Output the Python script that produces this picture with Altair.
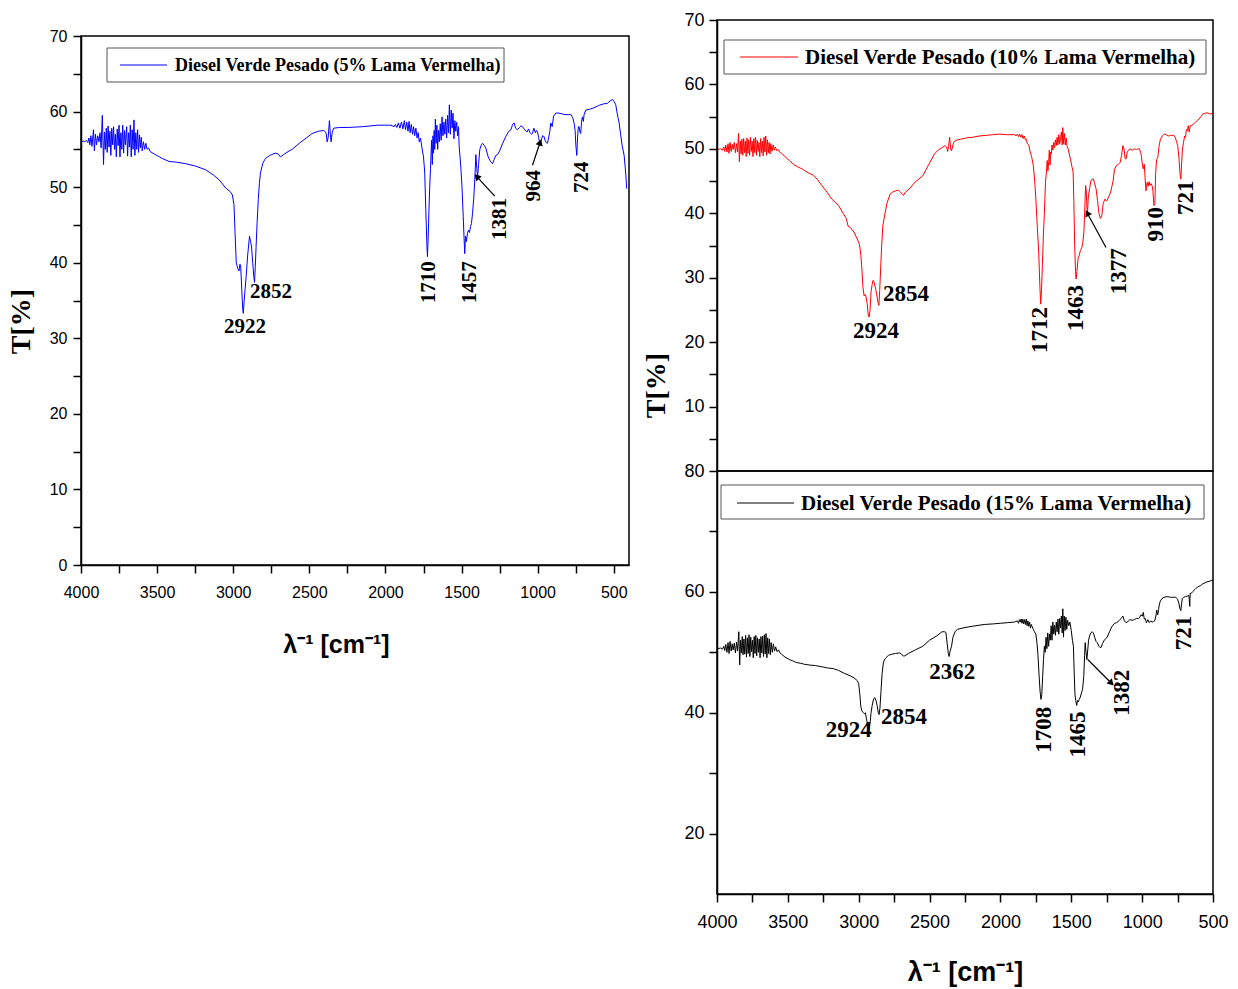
import altair as alt
import pandas as pd

TICK_FONT = "Liberation Sans, Arial, sans-serif"
SERIF = "Liberation Serif, Times New Roman, serif"
SANS = "Liberation Sans, Arial, sans-serif"

# ---------------- data (wavenumber cm-1, transmittance %) ----------------
blue_pts = [
    (3995, 56.0), (3985, 56.1), (3975, 56.0), (3965, 56.2), (3955, 55.9), (3948, 56.5), (3942, 55.6),
    (3935, 56.8), (3928, 55.4), (3918, 57.6), (3912, 54.8), (3905, 57.0), (3898, 55.6), (3890, 56.8),
    (3882, 56.0), (3875, 57.2), (3868, 55.2), (3860, 59.5), (3852, 53.0), (3846, 57.3), (3840, 55.0),
    (3834, 57.8), (3828, 54.6), (3822, 58.1), (3816, 55.3), (3810, 57.4), (3804, 54.2), (3798, 57.8),
    (3792, 55.6), (3786, 58.0), (3780, 55.0), (3774, 57.0), (3768, 54.0), (3762, 57.7), (3756, 55.5),
    (3750, 58.2), (3744, 54.0), (3738, 57.2), (3732, 55.0), (3726, 58.2), (3720, 54.5), (3714, 57.5),
    (3708, 55.6), (3700, 58.0), (3694, 54.1), (3688, 57.2), (3682, 55.3), (3676, 58.2), (3670, 54.0),
    (3664, 57.6), (3658, 55.0), (3652, 58.9), (3646, 54.2), (3640, 57.2), (3634, 55.0), (3628, 57.6),
    (3622, 54.6), (3616, 56.9), (3610, 55.2), (3604, 56.6), (3598, 54.8), (3590, 56.0), (3582, 55.0),
    (3574, 55.8), (3566, 55.0), (3556, 55.2), (3545, 54.7), (3520, 54.4), (3466, 53.8), (3422, 53.4),
    (3370, 53.3), (3312, 53.1), (3250, 52.8), (3181, 52.3), (3130, 51.6), (3094, 51.0), (3050, 49.9),
    (3020, 49.4), (3006, 49.0), (2995, 47.7), (2988, 44.0), (2980, 40.0), (2970, 39.2), (2962, 38.9),
    (2956, 39.8), (2951, 39.6), (2944, 36.5), (2938, 34.0), (2934, 33.3), (2928, 35.0), (2922, 36.5),
    (2915, 38.2), (2905, 41.0), (2893, 43.5), (2886, 42.8), (2880, 42.2), (2872, 40.0), (2865, 38.2),
    (2860, 37.4), (2855, 39.5), (2850, 42.0), (2843, 45.3), (2835, 48.5), (2828, 50.5), (2821, 51.9),
    (2805, 53.2), (2788, 53.8), (2760, 54.2), (2723, 54.5), (2705, 54.4), (2690, 54.0), (2670, 54.3),
    (2640, 54.7), (2613, 55.0), (2560, 55.9), (2520, 56.5), (2482, 57.1), (2440, 57.4), (2405, 57.5),
    (2390, 57.2), (2383, 56.0), (2376, 56.6), (2368, 58.8), (2362, 57.0), (2357, 56.0), (2350, 57.2),
    (2340, 57.8), (2300, 57.9), (2241, 57.9), (2150, 58.0), (2050, 58.2), (1964, 58.2), (1943, 58.0),
    (1935, 58.3), (1925, 57.9), (1915, 58.5), (1905, 57.8), (1895, 58.6), (1885, 57.7), (1876, 58.8),
    (1868, 57.6), (1860, 58.6), (1852, 57.4), (1845, 58.7), (1838, 57.2), (1830, 58.3), (1822, 57.0),
    (1815, 58.0), (1808, 56.8), (1800, 57.8), (1792, 56.5), (1785, 57.2), (1778, 56.0), (1770, 56.5),
    (1760, 55.2), (1750, 54.0), (1742, 52.0), (1735, 47.0), (1728, 42.5), (1724, 40.8), (1719, 43.5),
    (1714, 47.0), (1710, 49.6), (1704, 52.5), (1697, 56.2), (1692, 53.0), (1688, 56.8), (1684, 54.5),
    (1680, 57.5), (1676, 55.0), (1672, 59.0), (1667, 55.8), (1662, 58.2), (1657, 55.0), (1652, 57.5),
    (1646, 56.0), (1640, 58.4), (1634, 56.2), (1628, 59.3), (1622, 56.8), (1616, 58.6), (1610, 57.0),
    (1604, 59.0), (1598, 56.5), (1592, 59.5), (1586, 57.2), (1580, 60.9), (1574, 57.0), (1568, 60.2),
    (1562, 57.8), (1556, 59.8), (1550, 56.4), (1544, 58.8), (1538, 57.4), (1532, 58.6), (1526, 56.8),
    (1520, 58.0), (1516, 55.5), (1510, 54.0), (1505, 52.7), (1497, 50.0), (1489, 46.1), (1483, 43.0),
    (1479, 41.2), (1474, 43.5), (1468, 42.8), (1461, 43.9), (1455, 44.3), (1448, 44.0), (1441, 44.8),
    (1435, 45.2), (1428, 46.5), (1420, 48.5), (1413, 51.0), (1406, 54.3), (1400, 52.5), (1395, 51.3),
    (1388, 53.0), (1380, 55.0), (1370, 55.6), (1362, 55.8), (1350, 55.5), (1341, 55.2), (1325, 54.0),
    (1310, 53.4), (1297, 53.1), (1285, 53.7), (1275, 54.2), (1264, 54.3), (1250, 54.8), (1230, 55.8),
    (1209, 56.7), (1190, 57.4), (1175, 57.6), (1165, 58.3), (1155, 58.5), (1145, 57.8), (1133, 57.6),
    (1120, 57.9), (1110, 58.1), (1100, 58.0), (1085, 57.6), (1070, 57.3), (1060, 57.7), (1050, 57.2),
    (1040, 57.0), (1034, 57.1), (1025, 57.8), (1015, 57.2), (1008, 57.5), (1001, 57.3), (994, 56.6),
    (988, 56.0), (984, 55.8), (976, 56.2), (968, 56.8), (958, 56.7), (950, 56.1), (943, 55.9),
    (936, 55.8), (928, 56.5), (920, 57.4), (914, 58.5), (905, 58.0), (895, 59.4), (881, 59.8),
    (860, 59.8), (840, 59.7), (820, 59.6), (800, 59.6), (782, 59.6), (770, 59.2), (761, 58.5),
    (754, 57.5), (749, 55.5), (743, 54.2), (738, 56.5), (733, 58.0), (728, 58.0), (722, 57.3),
    (717, 57.1), (712, 58.6), (706, 59.3), (700, 58.7), (695, 59.6), (684, 60.2), (660, 60.3),
    (630, 60.5), (600, 60.8), (570, 61.0), (542, 61.1), (525, 61.4), (509, 61.6), (497, 61.3),
    (487, 60.9), (478, 59.8), (472, 59.2), (465, 58.5), (455, 57.0), (445, 55.5), (432, 54.2),
    (422, 52.0), (415, 49.8),
]

red_pts = [
    (3995, 49.9), (3975, 50.0), (3962, 49.8), (3952, 50.3), (3945, 49.6), (3938, 50.6), (3930, 49.5),
    (3922, 50.8), (3915, 49.3), (3908, 51.0), (3900, 49.6), (3893, 50.7), (3886, 49.9), (3878, 51.0),
    (3870, 49.4), (3862, 50.8), (3855, 49.5), (3848, 52.4), (3842, 48.0), (3836, 51.2), (3830, 49.2),
    (3824, 51.5), (3818, 49.0), (3812, 51.6), (3806, 49.4), (3800, 51.2), (3794, 48.8), (3788, 51.7),
    (3782, 49.3), (3776, 51.4), (3770, 49.0), (3764, 51.8), (3758, 49.6), (3752, 51.2), (3746, 48.8),
    (3740, 51.6), (3734, 49.4), (3728, 51.8), (3722, 49.0), (3716, 51.3), (3710, 49.6), (3704, 51.0),
    (3698, 48.8), (3692, 51.6), (3686, 49.4), (3680, 51.2), (3674, 48.9), (3668, 51.8), (3662, 49.5),
    (3656, 52.0), (3650, 49.0), (3644, 51.4), (3638, 49.4), (3632, 51.0), (3626, 49.2), (3620, 50.8),
    (3612, 49.6), (3604, 50.6), (3596, 49.8), (3588, 50.3), (3578, 49.7), (3568, 49.9), (3558, 49.5),
    (3545, 49.3), (3520, 48.8), (3490, 48.2), (3460, 47.6), (3430, 47.2), (3400, 46.9), (3380, 46.6),
    (3350, 46.2), (3318, 45.9), (3290, 45.2), (3260, 44.3), (3224, 43.3), (3190, 42.2), (3142, 41.2),
    (3110, 40.0), (3088, 39.2), (3075, 38.0), (3060, 37.8), (3034, 37.1), (3010, 36.0), (2994, 35.1),
    (2985, 33.5), (2978, 31.5), (2970, 28.5), (2962, 27.2), (2955, 27.4), (2948, 27.0), (2940, 26.0),
    (2932, 24.0), (2926, 23.9), (2920, 25.0), (2913, 27.8), (2905, 29.0), (2898, 29.6), (2890, 29.2),
    (2880, 28.2), (2870, 27.0), (2862, 26.0), (2858, 25.7), (2852, 28.0), (2845, 31.5), (2838, 35.0),
    (2830, 38.0), (2818, 39.6), (2800, 41.6), (2778, 43.0), (2760, 43.3), (2737, 43.5), (2720, 43.6),
    (2710, 43.4), (2695, 43.0), (2683, 42.8), (2670, 43.3), (2642, 43.8), (2600, 44.9), (2548, 45.8),
    (2510, 47.4), (2466, 49.2), (2440, 49.8), (2412, 50.2), (2390, 50.5), (2380, 50.3), (2372, 49.6),
    (2366, 50.4), (2358, 51.8), (2350, 49.8), (2345, 49.7), (2330, 51.0), (2318, 51.3), (2280, 51.5),
    (2240, 51.7), (2196, 51.8), (2150, 52.0), (2100, 52.1), (2050, 52.2), (2007, 52.3), (1960, 52.2),
    (1900, 52.2), (1890, 52.0), (1880, 52.3), (1872, 51.9), (1864, 52.3), (1856, 51.8), (1848, 52.2),
    (1840, 51.6), (1832, 52.0), (1824, 51.4), (1817, 51.5), (1810, 50.8), (1800, 50.6), (1790, 49.5),
    (1780, 48.8), (1768, 47.4), (1758, 45.0), (1750, 42.2), (1740, 38.0), (1730, 34.0), (1722, 29.0),
    (1716, 25.9), (1710, 28.0), (1704, 32.0), (1696, 37.1), (1690, 40.0), (1682, 44.9), (1676, 46.2),
    (1670, 48.2), (1665, 46.6), (1660, 47.8), (1655, 49.8), (1650, 47.5), (1645, 49.5), (1641, 49.2),
    (1636, 50.6), (1630, 49.8), (1624, 51.0), (1618, 50.2), (1612, 51.4), (1606, 50.5), (1600, 51.8),
    (1594, 50.6), (1588, 52.2), (1582, 50.8), (1576, 51.5), (1570, 52.6), (1564, 50.6), (1560, 53.3),
    (1554, 50.8), (1548, 52.4), (1542, 50.6), (1536, 51.7), (1530, 50.4), (1522, 50.0), (1514, 49.2),
    (1506, 48.4), (1496, 47.3), (1487, 46.4), (1482, 42.0), (1476, 35.0), (1470, 31.0), (1466, 29.8),
    (1460, 31.0), (1452, 33.0), (1445, 33.4), (1436, 34.2), (1425, 34.7), (1418, 35.5), (1411, 37.1),
    (1405, 40.5), (1399, 44.3), (1394, 43.5), (1390, 41.0), (1386, 39.9), (1380, 42.5), (1371, 43.8),
    (1362, 45.0), (1352, 45.3), (1344, 45.3), (1335, 44.6), (1325, 43.8), (1315, 42.0), (1305, 40.0),
    (1295, 39.2), (1285, 39.6), (1275, 41.5), (1263, 42.2), (1250, 41.9), (1235, 42.6), (1222, 43.3),
    (1205, 45.0), (1195, 46.8), (1182, 47.4), (1168, 47.6), (1155, 47.9), (1145, 49.0), (1136, 50.5),
    (1128, 50.0), (1120, 48.5), (1114, 48.4), (1105, 49.5), (1095, 49.8), (1087, 50.0), (1070, 49.8),
    (1055, 50.0), (1040, 49.9), (1030, 50.0), (1019, 50.0), (1010, 49.4), (1006, 49.0), (998, 47.5),
    (992, 46.9), (985, 47.6), (978, 45.0), (973, 43.5), (965, 44.8), (958, 44.2), (951, 44.9),
    (944, 44.3), (937, 44.6), (930, 44.3), (924, 43.5), (917, 41.2), (910, 41.5), (905, 46.0),
    (898, 48.4), (890, 48.6), (880, 50.5), (871, 51.5), (858, 52.0), (844, 52.3), (830, 52.2),
    (815, 52.0), (800, 52.1), (776, 52.1), (765, 51.7), (756, 51.0), (749, 50.5), (740, 48.5),
    (732, 46.0), (727, 45.3), (722, 47.5), (716, 49.8), (708, 51.0), (700, 52.0), (694, 51.8),
    (688, 53.0), (681, 52.8), (674, 53.6), (668, 52.6), (660, 53.6), (654, 53.6), (640, 53.8),
    (625, 54.1), (610, 54.4), (600, 54.6), (585, 55.0), (573, 55.4), (560, 55.5), (540, 55.6),
    (520, 55.4), (505, 55.5), (500, 55.4),
]

black_pts = [
    (3995, 50.6), (3975, 50.7), (3962, 50.5), (3952, 51.0), (3945, 50.3), (3938, 51.3), (3930, 50.0),
    (3922, 51.6), (3915, 49.8), (3908, 51.8), (3900, 50.2), (3893, 51.4), (3886, 50.4), (3878, 51.5),
    (3870, 49.9), (3862, 51.7), (3855, 50.2), (3846, 53.4), (3840, 47.9), (3834, 52.0), (3828, 49.9),
    (3822, 52.6), (3816, 49.6), (3810, 52.2), (3804, 49.7), (3798, 52.8), (3792, 49.2), (3786, 52.4),
    (3780, 49.8), (3774, 52.9), (3768, 49.3), (3762, 52.5), (3756, 50.1), (3750, 52.0), (3744, 49.1),
    (3738, 52.6), (3732, 49.8), (3726, 52.8), (3720, 49.4), (3714, 52.4), (3708, 50.0), (3702, 52.2),
    (3696, 49.1), (3690, 52.6), (3684, 49.9), (3678, 52.7), (3672, 49.3), (3666, 52.9), (3660, 49.7),
    (3654, 53.1), (3648, 49.1), (3642, 52.4), (3636, 49.8), (3630, 52.2), (3624, 49.6), (3618, 51.6),
    (3610, 50.0), (3602, 51.4), (3594, 50.2), (3586, 50.9), (3576, 50.1), (3566, 50.4), (3556, 49.9),
    (3545, 49.7), (3520, 49.2), (3490, 48.8), (3467, 48.6), (3440, 48.3), (3413, 48.2), (3380, 48.0),
    (3350, 47.9), (3305, 47.8), (3260, 47.6), (3220, 47.4), (3180, 47.3), (3142, 47.0), (3100, 46.5),
    (3060, 46.1), (3034, 45.8), (3010, 45.3), (3000, 44.8), (2992, 43.0), (2985, 41.0), (2978, 40.3),
    (2967, 40.0), (2958, 39.8), (2953, 40.0), (2945, 39.0), (2935, 37.5), (2928, 37.2), (2920, 38.2),
    (2913, 40.0), (2905, 41.2), (2895, 42.3), (2886, 42.5), (2878, 42.0), (2870, 41.2), (2862, 40.0),
    (2856, 39.7), (2850, 40.8), (2843, 43.5), (2835, 46.5), (2825, 48.4), (2812, 49.0), (2790, 49.5),
    (2764, 49.7), (2740, 49.8), (2710, 49.9), (2695, 49.6), (2685, 49.4), (2675, 49.4), (2650, 49.8),
    (2600, 50.4), (2548, 51.0), (2500, 52.0), (2450, 52.7), (2412, 53.4), (2395, 53.4), (2385, 53.3),
    (2376, 51.5), (2368, 49.8), (2362, 49.3), (2355, 50.2), (2345, 51.0), (2335, 52.5), (2320, 53.4),
    (2304, 53.8), (2250, 54.1), (2200, 54.3), (2115, 54.6), (2050, 54.7), (2000, 54.8), (1952, 54.9),
    (1900, 55.0), (1880, 55.2), (1872, 54.8), (1866, 55.4), (1860, 55.0), (1854, 55.5), (1848, 54.8),
    (1842, 55.5), (1836, 54.7), (1830, 55.4), (1824, 54.6), (1818, 55.5), (1812, 54.4), (1806, 55.2),
    (1800, 54.3), (1794, 55.0), (1788, 54.0), (1782, 54.6), (1777, 54.3), (1768, 53.8), (1760, 53.4),
    (1750, 53.0), (1742, 51.5), (1735, 49.5), (1728, 46.5), (1720, 43.5), (1714, 42.2), (1708, 43.0),
    (1702, 46.0), (1696, 48.8), (1690, 51.0), (1684, 50.0), (1678, 52.5), (1672, 50.6), (1666, 53.2),
    (1660, 51.0), (1654, 53.0), (1648, 52.0), (1642, 54.4), (1636, 52.0), (1630, 55.0), (1624, 53.0),
    (1618, 54.5), (1612, 52.8), (1606, 55.0), (1600, 53.4), (1594, 55.5), (1588, 53.0), (1582, 55.6),
    (1576, 54.0), (1570, 56.0), (1564, 53.2), (1560, 57.2), (1555, 52.5), (1550, 56.0), (1544, 53.6),
    (1538, 55.8), (1532, 53.8), (1526, 55.3), (1518, 54.4), (1510, 55.0), (1500, 53.6), (1492, 52.0),
    (1485, 51.0), (1480, 47.0), (1474, 43.0), (1468, 42.0), (1462, 41.2), (1456, 42.0), (1450, 41.8),
    (1444, 42.2), (1436, 42.6), (1428, 43.3), (1420, 43.9), (1412, 46.0), (1406, 49.5), (1402, 51.6),
    (1396, 50.0), (1390, 48.8), (1384, 50.4), (1378, 52.0), (1371, 52.7), (1362, 53.2), (1352, 53.4),
    (1344, 53.2), (1335, 52.5), (1325, 51.8), (1317, 51.6), (1305, 51.0), (1298, 50.8), (1290, 50.8),
    (1280, 51.4), (1268, 52.0), (1249, 52.4), (1230, 53.4), (1215, 54.2), (1195, 54.8), (1180, 54.9),
    (1160, 55.3), (1148, 55.6), (1136, 56.0), (1125, 55.2), (1114, 54.9), (1100, 55.1), (1087, 55.4),
    (1070, 55.3), (1055, 55.4), (1040, 55.6), (1025, 55.6), (1019, 55.7), (1008, 56.2), (998, 56.0),
    (992, 56.6), (985, 55.5), (978, 55.6), (970, 54.9), (960, 55.4), (950, 54.9), (940, 55.2),
    (930, 55.0), (920, 55.1), (911, 55.2), (903, 56.0), (897, 57.0), (890, 56.2), (884, 57.1),
    (878, 58.0), (871, 58.5), (860, 58.9), (845, 59.1), (830, 59.2), (817, 59.2), (800, 59.1),
    (780, 59.1), (763, 59.1), (750, 58.8), (740, 58.0), (733, 57.2), (727, 56.9), (722, 58.0),
    (716, 58.9), (708, 59.1), (695, 59.2), (681, 59.3), (670, 59.4), (664, 57.6), (661, 59.8),
    (656, 59.7), (645, 60.0), (627, 60.4), (610, 60.8), (590, 61.0), (573, 61.3), (550, 61.6),
    (520, 61.8), (500, 62.0),
]

# peak labels: (text, wavenumber, T)
blue_h_labels = [("2922", 2923, 31.5), ("2852", 2752, 36.1)]
blue_v_labels = [("1710", 1715, 37.4), ("1457", 1446, 37.4), ("1381", 1249, 45.8),
                 ("964", 1026, 50.2), ("724", 710, 51.3)]
blue_arrows = [(1282, 48.8, 1395, 51.3, 317), (1034, 52.9, 986, 55.8, 18)]

red_h_labels = [("2924", 2878, 21.7), ("2854", 2666, 27.4)]
red_v_labels = [("1712", 1720, 21.9), ("1463", 1464, 25.3), ("1377", 1163, 31.0),
                ("910", 902, 38.3), ("721", 692, 42.4)]
red_arrows = [(1255, 34.7, 1384, 39.9, 332)]

black_h_labels = [("2924", 3070, 37.1), ("2854", 2680, 39.3), ("2362", 2340, 46.7)]
black_v_labels = [("1708", 1692, 37.2), ("1465", 1450, 36.4), ("1382", 1142, 43.3),
                  ("721", 708, 53.2)]
black_arrows = [(1384, 48.8, 1222, 45.0, 135)]

legend_5 = "Diesel Verde Pesado (5% Lama Vermelha)"
legend_10 = "Diesel Verde Pesado (10% Lama Vermelha)"
legend_15 = "Diesel Verde Pesado (15% Lama Vermelha)"

one = pd.DataFrame({"k": [0]})


def axis_common(**kw):
    base = dict(domainColor="black", domainWidth=1.5, tickColor="black", tickWidth=1.5,
                tickSize=8, labelColor="black", labelFont=TICK_FONT, grid=False, format="d",
                titleColor="black", labelFlush=False)
    base.update(kw)
    return alt.Axis(**base)


def panel(pts, color, xdom, ydom, width, height, xaxis, yaxis, legend_text, leg,
          hl, vl, arrows, ann_size, leg_size):
    xs = alt.Scale(domain=xdom, reverse=True, nice=False, zero=False)
    ys = alt.Scale(domain=ydom, nice=False, zero=False)

    def X(field):
        return alt.X(field, type="quantitative", scale=xs, axis=xaxis)

    def Y(field):
        return alt.Y(field, type="quantitative", scale=ys, axis=yaxis)

    df = pd.DataFrame(pts, columns=["w", "t"])
    line = alt.Chart(df).mark_line(color=color, strokeWidth=1, clip=True).encode(
        x=X("w"), y=Y("t"))
    layers = [line]
    hdf = pd.DataFrame(hl, columns=["label", "w", "t"])
    layers.append(alt.Chart(hdf).mark_text(font=SERIF, fontWeight="bold", fontSize=ann_size,
                                           color="black").encode(
        x=X("w"), y=Y("t"), text="label:N"))
    vdf = pd.DataFrame(vl, columns=["label", "w", "t"])
    layers.append(alt.Chart(vdf).mark_text(font=SERIF, fontWeight="bold", fontSize=ann_size,
                                           color="black", angle=270).encode(
        x=X("w"), y=Y("t"), text="label:N"))
    adf = pd.DataFrame(arrows, columns=["w", "t", "w2", "t2", "ang"])
    layers.append(alt.Chart(adf).mark_rule(color="black", strokeWidth=1.2).encode(
        x=X("w"), y=Y("t"), x2="w2:Q", y2="t2:Q"))
    layers.append(alt.Chart(adf).mark_point(shape="triangle", filled=True, color="black",
                                            opacity=1, size=55).encode(
        x=X("w2"), y=Y("t2"), angle=alt.Angle("ang:Q", scale=None)))
    bx0, bx1, by0, by1, lx0, lx1, ly, tx = leg
    layers.append(alt.Chart(one).mark_rect(fill="white", stroke="#555555", strokeWidth=1).encode(
        x=alt.value(bx0), x2=alt.value(bx1), y=alt.value(by0), y2=alt.value(by1)))
    layers.append(alt.Chart(one).mark_rule(color=color, strokeWidth=1.2).encode(
        x=alt.value(lx0), x2=alt.value(lx1), y=alt.value(ly)))
    layers.append(alt.Chart(one).mark_text(align="left", baseline="middle", font=SERIF,
                                           fontWeight="bold", fontSize=leg_size,
                                           color="black").encode(
        x=alt.value(tx), y=alt.value(ly + 1), text=alt.value(legend_text)))
    return alt.layer(*layers).properties(width=width, height=height)


XTITLE = "λ⁻¹ [cm⁻¹]"

left_panel = panel(
    blue_pts, "#0000ff", [400, 4000], [0, 70], 548, 529,
    axis_common(values=list(range(500, 4001, 250)),
                labelExpr="datum.value % 500 === 0 ? datum.label : ''",
                labelFontSize=16, labelPadding=11, title=XTITLE, titleFont=SANS,
                titleFontSize=25, titleFontWeight="bold", titlePadding=32,
                titleX=255, titleAlign="center"),
    axis_common(values=list(range(0, 71, 5)),
                labelExpr="datum.value % 10 === 0 ? datum.label : ''",
                labelFontSize=16, labelPadding=6, title="T[%]", titleFont=SERIF,
                titleFontSize=28, titleFontWeight="bold", titlePadding=14, titleY=285,
                titleAlign="center"),
    legend_5, (26, 423, 12, 46, 39, 86, 29, 94), blue_h_labels, blue_v_labels, blue_arrows,
    21, 18)

# empty strip that lowers the left panel relative to the right column
spacer = alt.Chart(one).mark_rule(opacity=0).encode(
    x=alt.value(0), x2=alt.value(1), y=alt.value(0)
).properties(width=548, height=1, view=alt.ViewBackground(stroke="transparent"))

left = alt.vconcat(spacer, left_panel, spacing=15, bounds="flush")

top_right = panel(
    red_pts, "#ff0000", [500, 4000], [0, 70], 496, 451,
    None,
    axis_common(values=list(range(5, 71, 5)),
                labelExpr="datum.value % 10 === 0 ? datum.label : ''",
                labelFontSize=18, labelPadding=5, title="T[%]", titleFont=SERIF,
                titleFontSize=28, titleFontWeight="bold", titlePadding=13, titleY=365,
                titleAlign="center"),
    legend_10, (7, 489, 20, 54, 23, 81, 37, 88), red_h_labels, red_v_labels, red_arrows,
    23, 21)

bottom_right = panel(
    black_pts, "#000000", [500, 4000], [10, 80], 496, 423,
    axis_common(values=list(range(500, 4001, 250)),
                labelExpr="datum.value % 500 === 0 ? datum.label : ''",
                labelFontSize=18, labelPadding=11, title=XTITLE, titleFont=SANS,
                titleFontSize=27, titleFontWeight="bold", titlePadding=28),
    axis_common(values=list(range(20, 81, 10)),
                labelExpr="datum.value % 20 === 0 ? datum.label : ''",
                labelFontSize=18, labelPadding=5, title=""),
    legend_15, (4, 487, 14, 48, 20, 77, 32, 84), black_h_labels, black_v_labels, black_arrows,
    23, 21)

right = alt.vconcat(top_right, bottom_right, spacing=0, bounds="flush")

chart = alt.hconcat(left, right, spacing=12).properties(
    padding={"left": 6, "top": 10, "right": 5, "bottom": 5}
).configure_view(stroke="black", strokeWidth=1.5)

chart.save("out.html", embed_options={"renderer": "svg", "actions": False})
